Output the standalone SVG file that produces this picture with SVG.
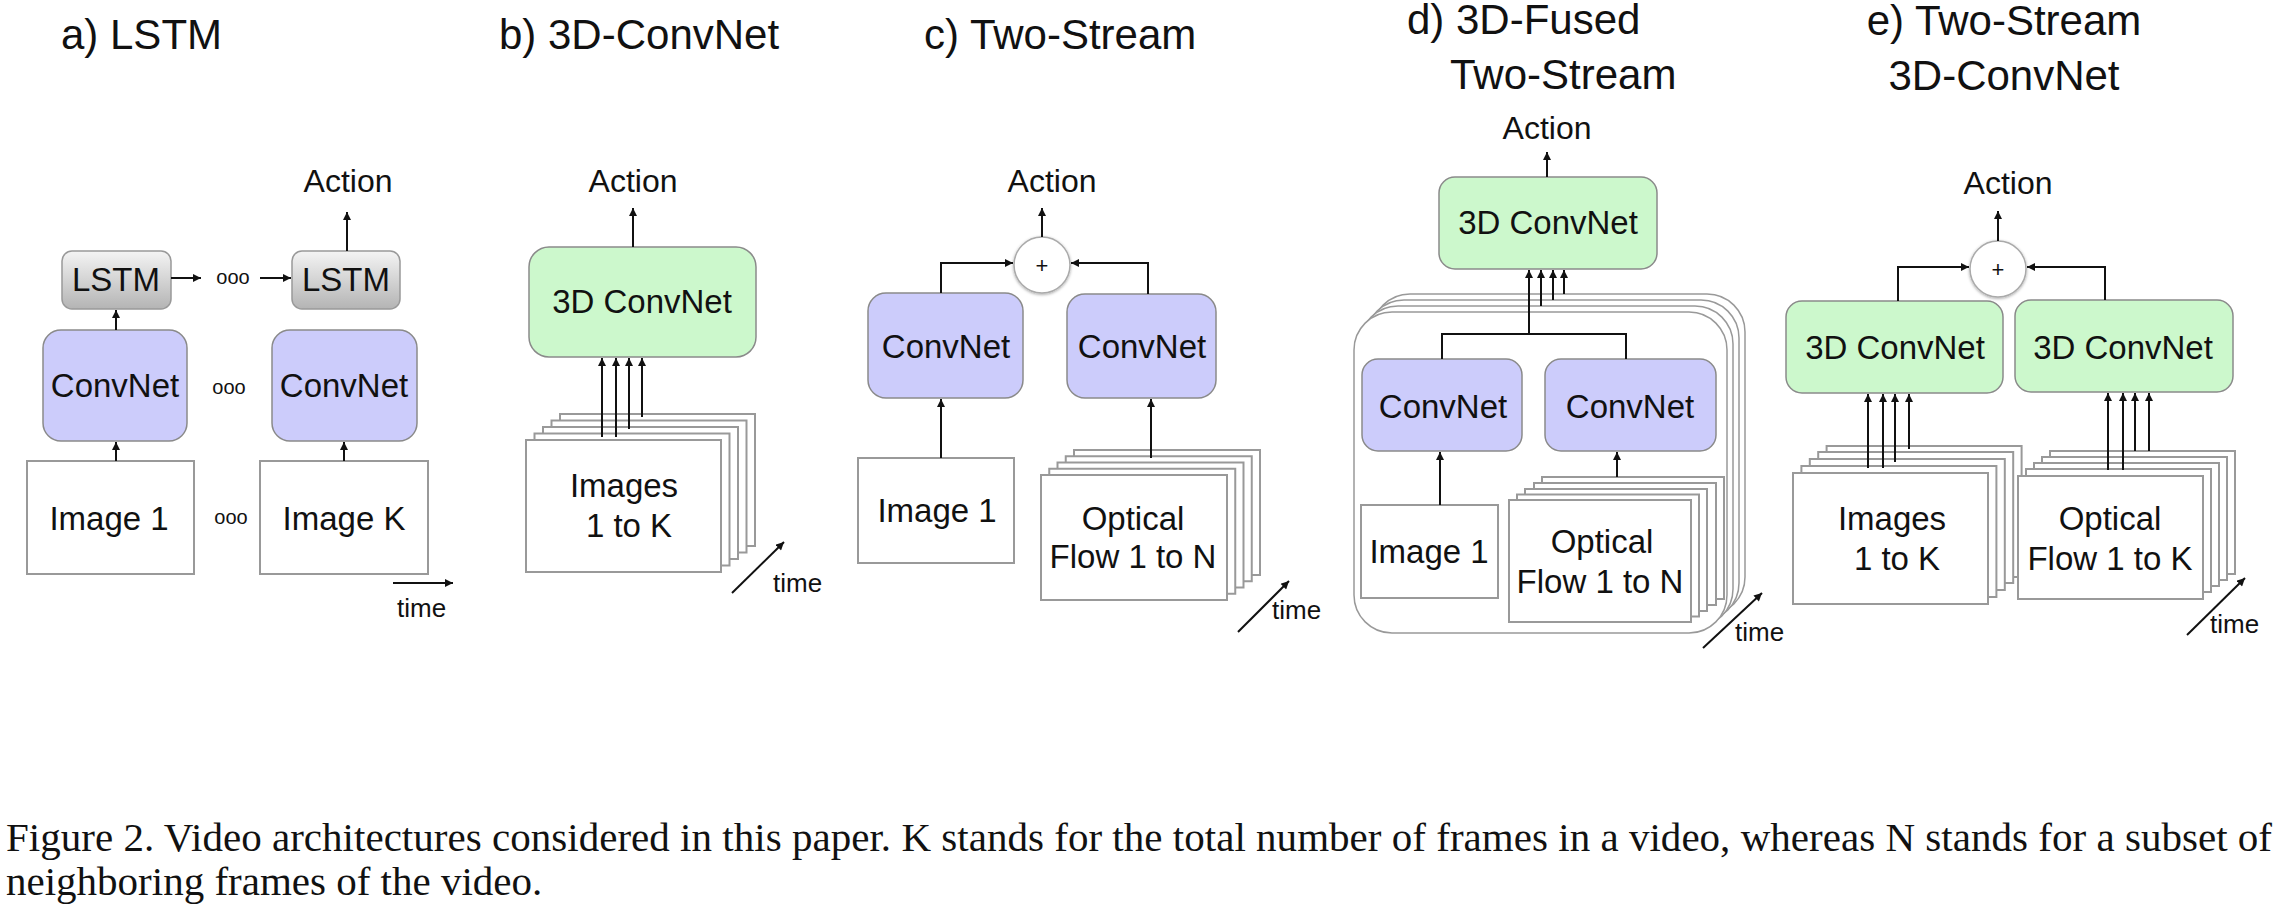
<svg xmlns="http://www.w3.org/2000/svg" width="2282" height="918" viewBox="0 0 2282 918">
  <defs>
    <marker id="arr" viewBox="0 0 10 10" refX="10" refY="5" markerWidth="9" markerHeight="8" markerUnits="userSpaceOnUse" orient="auto">
      <path d="M0,0 L10,5 L0,10 z" fill="#111"/>
    </marker>
    <linearGradient id="lstmFill" x1="0" y1="0" x2="0" y2="1">
      <stop offset="0" stop-color="#f4f4f4"/>
      <stop offset="1" stop-color="#b4b4b4"/>
    </linearGradient>
    <filter id="soft" x="-30%" y="-30%" width="160%" height="160%">
      <feDropShadow dx="0" dy="1" stdDeviation="1.5" flood-color="#000" flood-opacity="0.35"/>
    </filter>
    <style>
      text { font-family: "Liberation Sans", Arial, sans-serif; fill: #111; }
      .title { font-size: 42px; }
      .lbl { font-size: 33px; text-anchor: middle; }
      .act { font-size: 32px; text-anchor: middle; }
      .small { font-size: 26px; }
      .dots { font-size: 20px; text-anchor: middle; }
      .plus { font-size: 22px; text-anchor: middle; }
      .cap { font-family: "Liberation Serif", "Times New Roman", serif; font-size: 41px; }
      .cnn { fill: #ccccfb; stroke: #8a8a8a; stroke-width: 1.5; }
      .c3d { fill: #ccf8cc; stroke: #8a8a8a; stroke-width: 1.5; }
      .lstm { fill: url(#lstmFill); stroke: #999; stroke-width: 1.5; }
      .img { fill: #fff; stroke: #999; stroke-width: 2; }
      .outer { fill: #fff; stroke: #999; stroke-width: 1.5; }
      .sum { fill: #fff; stroke: #aaa; stroke-width: 1.5; }
      .edge { fill: none; stroke: #111; stroke-width: 2; }
      .edge.a { marker-end: url(#arr); }
    </style>
  </defs>

  <!-- panel titles -->
  <g id="titles">
    <text class="title" x="61" y="49">a) LSTM</text>
    <text class="title" x="499" y="49">b) 3D-ConvNet</text>
    <text class="title" x="924" y="49">c) Two-Stream</text>
    <text class="title" x="1407" y="34">d) 3D-Fused</text>
    <text class="title" x="1450" y="89">Two-Stream</text>
    <text class="title" x="2004" y="35" text-anchor="middle">e) Two-Stream</text>
    <text class="title" x="2004" y="90" text-anchor="middle">3D-ConvNet</text>
  </g>

  <!-- a) LSTM -->
  <g id="a-lstm1"><rect class="lstm" x="62" y="251" width="109" height="58" rx="10"/><text class="lbl" x="116" y="291">LSTM</text></g>
  <g id="a-lstm2"><rect class="lstm" x="292" y="251" width="108" height="58" rx="10"/><text class="lbl" x="346" y="291">LSTM</text></g>
  <g id="a-cnn1"><rect class="cnn" x="43" y="330" width="144" height="111" rx="18"/><text class="lbl" x="115" y="397">ConvNet</text></g>
  <g id="a-cnn2"><rect class="cnn" x="272" y="330" width="145" height="111" rx="18"/><text class="lbl" x="344" y="397">ConvNet</text></g>
  <g id="a-img1"><rect class="img" x="27" y="461" width="167" height="113"/><text class="lbl" x="109" y="530">Image 1</text></g>
  <g id="a-imgK"><rect class="img" x="260" y="461" width="168" height="113"/><text class="lbl" x="344" y="530">Image K</text></g>
  <g id="a-dots">
    <text class="dots" x="233" y="284">ooo</text>
    <text class="dots" x="229" y="394">ooo</text>
    <text class="dots" x="231" y="524">ooo</text>
  </g>
  <g id="a-action"><text class="act" x="348" y="192">Action</text></g>
  <g id="a-time"><text class="small" x="397" y="617">time</text></g>

  <!-- b) 3D-ConvNet -->
  <g id="b-c3d"><rect class="c3d" x="529" y="247" width="227" height="110" rx="20"/><text class="lbl" x="642" y="313">3D ConvNet</text></g>
  <g id="b-frames">
    <rect class="img" x="560" y="414" width="195" height="132"/>
    <rect class="img" x="551.5" y="420.5" width="195" height="132"/>
    <rect class="img" x="543" y="427" width="195" height="132"/>
    <rect class="img" x="534.5" y="433.5" width="195" height="132"/>
    <rect class="img" x="526" y="440" width="195" height="132"/>
    <text class="lbl" x="624" y="497">Images</text>
    <text class="lbl" x="629" y="537">1 to K</text>
  </g>
  <g id="b-action"><text class="act" x="633" y="192">Action</text></g>
  <g id="b-time"><text class="small" x="773" y="592">time</text></g>

  <!-- c) Two-Stream -->
  <g id="c-sum"><circle class="sum" cx="1042" cy="265" r="28" filter="url(#soft)"/><text class="plus" x="1042" y="273">+</text></g>
  <g id="c-cnn1"><rect class="cnn" x="868" y="293" width="155" height="105" rx="18"/><text class="lbl" x="946" y="358">ConvNet</text></g>
  <g id="c-cnn2"><rect class="cnn" x="1067" y="294" width="149" height="104" rx="18"/><text class="lbl" x="1142" y="358">ConvNet</text></g>
  <g id="c-img1"><rect class="img" x="858" y="458" width="156" height="105"/><text class="lbl" x="937" y="522">Image 1</text></g>
  <g id="c-flow">
    <rect class="img" x="1074" y="450" width="186" height="125"/>
    <rect class="img" x="1065.75" y="456.25" width="186" height="125"/>
    <rect class="img" x="1057.5" y="462.5" width="186" height="125"/>
    <rect class="img" x="1049.25" y="468.75" width="186" height="125"/>
    <rect class="img" x="1041" y="475" width="186" height="125"/>
    <text class="lbl" x="1133" y="530">Optical</text>
    <text class="lbl" x="1133" y="568">Flow 1 to N</text>
  </g>
  <g id="c-action"><text class="act" x="1052" y="192">Action</text></g>
  <g id="c-time"><text class="small" x="1272" y="619">time</text></g>

  <!-- d) 3D-Fused Two-Stream -->
  <g id="d-c3d"><rect class="c3d" x="1439" y="177" width="218" height="92" rx="16"/><text class="lbl" x="1548" y="234">3D ConvNet</text></g>
  <g id="d-stack">
    <rect class="outer" x="1372" y="294" width="373" height="321" rx="38"/>
    <rect class="outer" x="1366" y="300" width="373" height="321" rx="38"/>
    <rect class="outer" x="1360" y="306" width="373" height="321" rx="38"/>
    <rect class="outer" x="1354" y="312" width="373" height="321" rx="38"/>
  </g>
  <g id="d-cnn1"><rect class="cnn" x="1362" y="359" width="160" height="92" rx="16"/><text class="lbl" x="1443" y="418">ConvNet</text></g>
  <g id="d-cnn2"><rect class="cnn" x="1545" y="359" width="171" height="92" rx="16"/><text class="lbl" x="1630" y="418">ConvNet</text></g>
  <g id="d-img1"><rect class="img" x="1361" y="505" width="137" height="93"/><text class="lbl" x="1429" y="563">Image 1</text></g>
  <g id="d-flow">
    <rect class="img" x="1542" y="477" width="182" height="122"/>
    <rect class="img" x="1534" y="483" width="182" height="122"/>
    <rect class="img" x="1525" y="489" width="182" height="122"/>
    <rect class="img" x="1517" y="494.5" width="182" height="122"/>
    <rect class="img" x="1509" y="500" width="182" height="122"/>
    <text class="lbl" x="1602" y="553">Optical</text>
    <text class="lbl" x="1600" y="593">Flow 1 to N</text>
  </g>
  <g id="d-action"><text class="act" x="1547" y="139">Action</text></g>
  <g id="d-time"><text class="small" x="1735" y="641">time</text></g>

  <!-- e) Two-Stream 3D-ConvNet -->
  <g id="e-sum"><circle class="sum" cx="1998" cy="269" r="28" filter="url(#soft)"/><text class="plus" x="1998" y="277">+</text></g>
  <g id="e-c3d1"><rect class="c3d" x="1786" y="301" width="217" height="92" rx="16"/><text class="lbl" x="1895" y="359">3D ConvNet</text></g>
  <g id="e-c3d2"><rect class="c3d" x="2015" y="300" width="218" height="92" rx="16"/><text class="lbl" x="2123" y="359">3D ConvNet</text></g>
  <g id="e-frames">
    <rect class="img" x="1826.6" y="446" width="195" height="131"/>
    <rect class="img" x="1818.2" y="452" width="195" height="131"/>
    <rect class="img" x="1809.8" y="459" width="195" height="131"/>
    <rect class="img" x="1801.4" y="466" width="195" height="131"/>
    <rect class="img" x="1793" y="473" width="195" height="131"/>
    <text class="lbl" x="1892" y="530">Images</text>
    <text class="lbl" x="1897" y="570">1 to K</text>
  </g>
  <g id="e-flow">
    <rect class="img" x="2050" y="451" width="185" height="123"/>
    <rect class="img" x="2042" y="457" width="185" height="123"/>
    <rect class="img" x="2034" y="463" width="185" height="123"/>
    <rect class="img" x="2026" y="469" width="185" height="123"/>
    <rect class="img" x="2018" y="476" width="185" height="123"/>
    <text class="lbl" x="2110" y="530">Optical</text>
    <text class="lbl" x="2110" y="570">Flow 1 to K</text>
  </g>
  <g id="e-action"><text class="act" x="2008" y="194">Action</text></g>
  <g id="e-time"><text class="small" x="2210" y="633">time</text></g>

  <!-- connectors -->
  <g id="connectors">
    <!-- a -->
    <path class="edge a" d="M171,278 H201"/>
    <path class="edge a" d="M260,278 H291"/>
    <path class="edge a" d="M116,330 V310"/>
    <path class="edge a" d="M116,461 V442"/>
    <path class="edge a" d="M344,461 V442"/>
    <path class="edge a" d="M347,251 V212"/>
    <path class="edge a" d="M393,583 H453"/>
    <!-- b -->
    <path class="edge a" d="M633,247 V208"/>
    <path class="edge a" d="M602,437 V358"/>
    <path class="edge a" d="M616,437 V358"/>
    <path class="edge a" d="M629,429 V358"/>
    <path class="edge a" d="M642,417 V358"/>
    <path class="edge a" d="M732,593 L784,542"/>
    <!-- c -->
    <path class="edge a" d="M1042,237 V208"/>
    <path class="edge a" d="M941,293 V263 H1013"/>
    <path class="edge a" d="M1148,294 V263 H1071"/>
    <path class="edge a" d="M941,458 V399"/>
    <path class="edge a" d="M1151,458 V399"/>
    <path class="edge a" d="M1238,632 L1289,581"/>
    <!-- d -->
    <path class="edge a" d="M1547,177 V152"/>
    <path class="edge" d="M1442,359 V334 H1626 V359"/>
    <path class="edge a" d="M1529,334 V270"/>
    <path class="edge a" d="M1541,306 V270"/>
    <path class="edge a" d="M1553,300 V270"/>
    <path class="edge a" d="M1564,294 V270"/>
    <path class="edge a" d="M1440,505 V452"/>
    <path class="edge a" d="M1617,477 V452"/>
    <path class="edge a" d="M1703,648 L1762,593"/>
    <!-- e -->
    <path class="edge a" d="M1998,241 V211"/>
    <path class="edge a" d="M1898,301 V267 H1969"/>
    <path class="edge a" d="M2105,300 V267 H2027"/>
    <path class="edge a" d="M1868,468 V394"/>
    <path class="edge a" d="M1883,468 V394"/>
    <path class="edge a" d="M1895,462 V394"/>
    <path class="edge a" d="M1909,449 V394"/>
    <path class="edge a" d="M2108,470 V393"/>
    <path class="edge a" d="M2123,470 V393"/>
    <path class="edge a" d="M2135,451 V393"/>
    <path class="edge a" d="M2149,451 V393"/>
    <path class="edge a" d="M2187,635 L2245,578"/>
  </g>

  <!-- caption -->
  <g id="caption">
    <text class="cap" x="6" y="851" textLength="2266" lengthAdjust="spacing">Figure 2. Video architectures considered in this paper. K stands for the total number of frames in a video, whereas N stands for a subset of</text>
    <text class="cap" x="6" y="895">neighboring frames of the video.</text>
  </g>
</svg>
